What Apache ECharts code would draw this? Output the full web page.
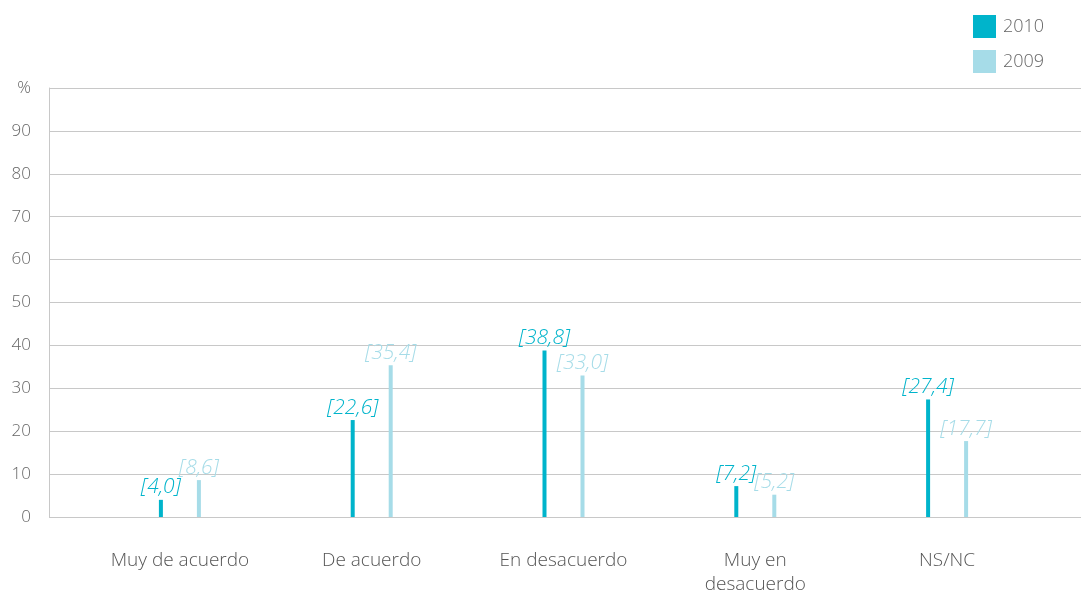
<!DOCTYPE html>
<html>
<head>
<meta charset="utf-8">
<script src="https://cdn.jsdelivr.net/npm/echarts@6/dist/echarts.min.js"></script>
<style>
  html, body { margin: 0; padding: 0; background: #fff; }
  #chart { width: 1082px; height: 597px; }
</style>
</head>
<body>
<div id="chart"></div>
<script>
const categories = ['Muy de acuerdo', 'De acuerdo', 'En desacuerdo', 'Muy en\ndesacuerdo', 'NS/NC']
const values2010 = [4.0, 22.6, 38.8, 7.2, 27.4]
const values2009 = [8.6, 35.4, 33.0, 5.2, 17.7]
const seriesNames = ['2010', '2009']

const color2010 = '#00b4cb'
const color2009 = '#a6dce8'
const font = '"Open Sans", Lato, sans-serif'

const fmt = (p) => '[' + p.value.toFixed(1).replace('.', ',') + ']'

const chart = echarts.init(document.getElementById('chart'))

const option = {
  animation: false,
  textStyle: { fontFamily: font },
  legend: {
    orient: 'vertical',
    left: 968,
    top: 10,
    itemWidth: 23,
    itemHeight: 23,
    itemGap: 12,
    icon: 'rect',
    textStyle: { fontSize: 18, color: '#666', fontFamily: font, fontWeight: 300, padding: [0, 0, 0, 2] },
    data: seriesNames,
  },
  grid: [
    { left: 49, right: 1, top: 88, bottom: 80 },
    { left: 84, right: 39, top: 88, bottom: 80 },
  ],
  xAxis: [
    { gridIndex: 0, type: 'value', show: false, min: 0, max: 1 },
    {
      gridIndex: 1,
      type: 'category',
      data: categories,
      axisLine: { show: false },
      axisTick: { show: false },
      axisLabel: {
        margin: 32,
        fontSize: 19,
        lineHeight: 24,
        color: '#555',
        fontFamily: font,
        fontWeight: 300,
        interval: 0,
      },
    },
  ],
  yAxis: [
    {
      gridIndex: 0,
      type: 'value',
      min: 0,
      max: 100,
      interval: 10,
      axisLine: { show: true, lineStyle: { color: '#c8c8c8', width: 1 } },
      axisTick: { show: false },
      splitLine: { lineStyle: { color: '#c8c8c8', width: 1 } },
      axisLabel: {
        margin: 18,
        fontSize: 17,
        color: '#666',
        fontFamily: font,
        fontWeight: 300,
        formatter: (v) => (v === 100 ? '%' : v),
      },
    },
    { gridIndex: 1, type: 'value', min: 0, max: 100, show: false },
  ],
  series: [
    {
      name: seriesNames[0],
      type: 'bar',
      xAxisIndex: 1,
      yAxisIndex: 1,
      data: values2010,
      barWidth: 4,
      barGap: '850%',
      itemStyle: { color: color2010 },
      label: {
        show: true,
        position: 'top',
        distance: 2,
        formatter: fmt,
        color: color2010,
        fontSize: 21,
        fontStyle: 'italic',
        fontFamily: font,
        fontWeight: 300,
      },
    },
    {
      name: seriesNames[1],
      type: 'bar',
      xAxisIndex: 1,
      yAxisIndex: 1,
      data: values2009,
      barWidth: 4,
      itemStyle: { color: color2009 },
      label: {
        show: true,
        position: 'top',
        distance: 2,
        formatter: fmt,
        color: color2009,
        fontSize: 21,
        fontStyle: 'italic',
        fontFamily: font,
        fontWeight: 300,
      },
    },
  ],
}

chart.setOption(option)
window.addEventListener('resize', () => chart.resize())
</script>
</body>
</html>
